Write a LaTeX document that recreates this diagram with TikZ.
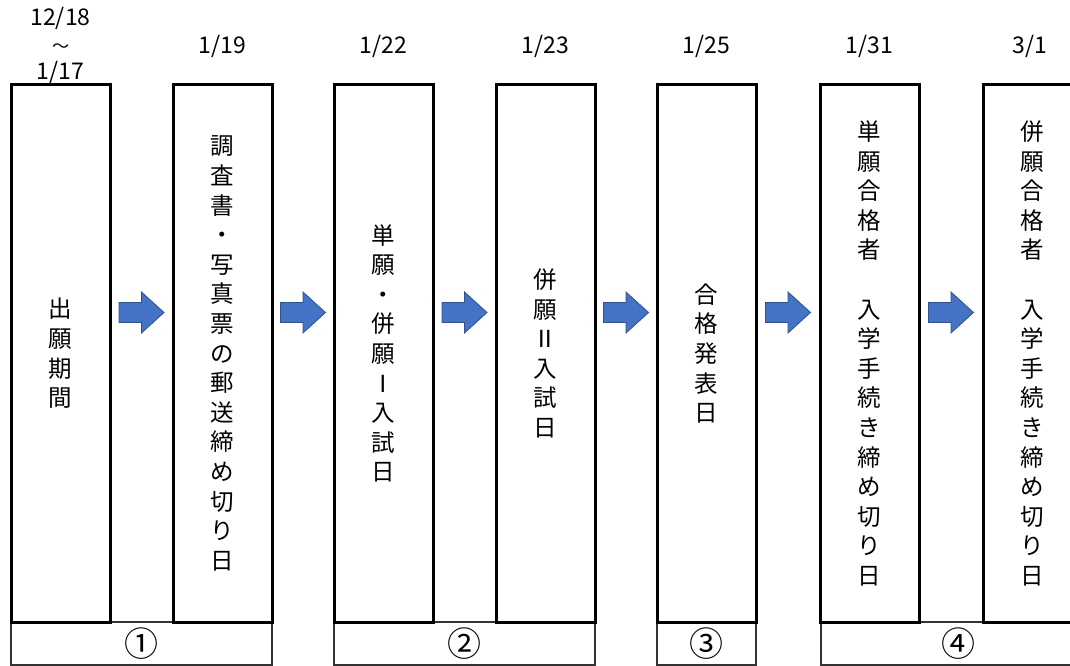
\documentclass[tikz,border=0pt]{standalone}
\usepackage{fontspec}
\setmainfont{Noto Sans CJK JP}
\newfontfamily\cjk{Noto Sans CJK JP}
\begin{document}
\begin{tikzpicture}[x=1pt,y=-1pt,
  col/.style={draw=black,line width=3pt,fill=white,minimum width=99pt,minimum height=537pt,inner sep=0pt,align=center,
    font=\cjk\fontsize{23.5}{29.6}\selectfont},
  grp/.style={draw=black!80,line width=2pt,minimum height=43pt,inner sep=0pt,font=\cjk\fontsize{34}{36}\selectfont},
  datelbl/.style={inner sep=0pt,align=center,font=\cjk\fontsize{23}{27}\selectfont},
  pics/blockarrow/.style={code={\draw[line width=0.8pt,fill={rgb,255:red,68;green,114;blue,196},draw={rgb,255:red,47;green,82;blue,143}]
    (-22.5,-10) -- (0,-10) -- (0,-20.5) -- (22.5,0) -- (0,20.5) -- (0,10) -- (-22.5,10) -- cycle;}}
]
\useasboundingbox (0,0) rectangle (1070,666);
\begin{scope}
\clip (0,0) rectangle (1070,666);
% group boxes
\node[grp,minimum width=261pt] (g1) at (141.5,643.5) {①};
\node[grp,minimum width=261pt] (g2) at (464.5,643.5) {②};
\node[grp,minimum width=99pt] (g3) at (706.5,643.5) {③};
\node[grp,minimum width=262pt,anchor=west] (g4) at (820,643.5) {};
\node[inner sep=0pt,font=\cjk\fontsize{34}{36}\selectfont] (g4t) at (958,643.5) {④};
% columns
\node[col] (c1) at (60.5,353.5) {出\\願\\期\\間};
\node[col] (c2) at (222.5,353.5) {調\\査\\書\\・\\写\\真\\票\\の\\郵\\送\\締\\め\\切\\り\\日};
\node[col] (c3) at (383.5,353.5) {単\\願\\・\\併\\願\\Ⅰ\\入\\試\\日};
\node[col] (c4) at (545.5,353.5) {併\\願\\Ⅱ\\入\\試\\日};
\node[col] (c5) at (706.5,353.5) {合\\格\\発\\表\\日};
\node[col] (c6) at (869.5,353.5) {単\\願\\合\\格\\者\\\mbox{}\\入\\学\\手\\続\\き\\締\\め\\切\\り\\日};
\node[col] (c7) at (1032.5,353.5) {併\\願\\合\\格\\者\\\mbox{}\\入\\学\\手\\続\\き\\締\\め\\切\\り\\日};
\end{scope}
% dates
\node[datelbl] (d1) at (60.5,45) {12/18\\{\fontsize{17}{27}\selectfont ～}\\1/17};
\node[datelbl] (d2) at (222.5,46) {1/19};
\node[datelbl] (d3) at (383.5,46) {1/22};
\node[datelbl] (d4) at (545.5,46) {1/23};
\node[datelbl] (d5) at (706.5,46) {1/25};
\node[datelbl] (d6) at (869.5,46) {1/31};
\node[datelbl] (d7) at (1030,46) {3/1};
% arrows
\pic at (141.5,312.5) {blockarrow};
\pic at (303,312.5) {blockarrow};
\pic at (464.5,312.5) {blockarrow};
\pic at (626,312.5) {blockarrow};
\pic at (788,312.5) {blockarrow};
\pic at (951,312.5) {blockarrow};
\end{tikzpicture}
\end{document}
